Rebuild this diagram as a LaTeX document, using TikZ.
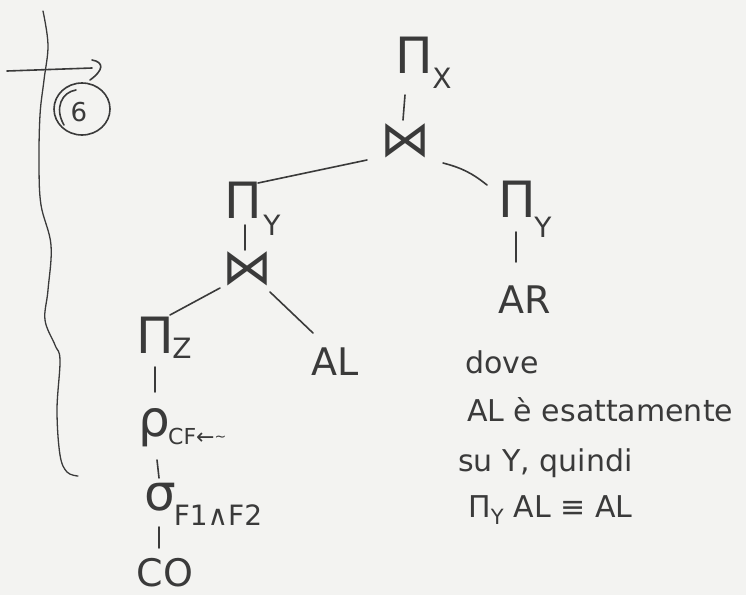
\documentclass[tikz,border=0pt]{standalone}
\usepackage{fontspec}
\setmainfont{DejaVu Sans}
\usetikzlibrary{calc}
\definecolor{inkc}{HTML}{3A3A3A}
\definecolor{paper}{HTML}{F3F3F1}
\begin{document}
\begin{tikzpicture}[x=1pt,y=-1pt,
  ink/.style={draw=inkc, line width=1.6pt, line cap=round, line join=round},
  lbl/.style={inner sep=0pt, text=inkc},
  big/.style={lbl, font=\fontsize{50}{54}\selectfont},
  mid/.style={lbl, font=\fontsize{38}{42}\selectfont},
  sub/.style={lbl, font=\fontsize{28}{32}\selectfont},
  tiny/.style={lbl, font=\fontsize{22}{26}\selectfont},
  note/.style={lbl, anchor=west, font=\fontsize{30}{34}\selectfont}]
\fill[paper] (0,0) rectangle (746,595);
\useasboundingbox (0,0) rectangle (746,595);

% left margin marks
\draw[ink, line width=1.3pt] plot[smooth, tension=0.6] coordinates {(43,11) (48,45) (44,80) (40,115) (39,165) (41,205) (51,245) (48,290) (45,320) (55,345) (60,360) (57,410) (60,455) (67,472) (78,476)};
\draw[ink] (7,71) -- (92,68);
\draw[ink] (92,60) .. controls (104,62) and (104,70) .. (90,80);
\draw[ink] (82,109) ellipse [x radius=28, y radius=26];
\draw[ink] (64,125) .. controls (54,108) and (62,92) .. (76,90);
\node[lbl, font=\fontsize{26}{30}\selectfont] (six) at (79,112) {6};

% tree
\node[big] (px) at (414,55) {Π};
\node[sub] (pxs) at (442,78) {X};
\node[big] (j1) at (405,141) {⋈};
\node[big] (pyl) at (243,200) {Π};
\node[sub] (pyls) at (272,225) {Y};
\node[big] (pyr) at (517,199) {Π};
\node[sub] (pyrs) at (543,227) {Y};
\node[big] (j2) at (247,269) {⋈};
\node[mid] (ar) at (525,300) {AR};
\node[big] (pz) at (155,335) {Π};
\node[sub] (pzs) at (182,348) {Z};
\node[mid] (al) at (335,362) {AL};
\node[big] (rho) at (154,428) {ρ};
\node[tiny, anchor=west] (rhos) at (168,436) {CF←\raisebox{3pt}{\fontsize{14}{14}\selectfont\textasciitilde}};
\node[big] (sig) at (160,497) {σ};
\node[sub] (sigs) at (218,515) {F1∧F2};
\node[mid] (co) at (165,573) {CO};

\draw[ink] ($(px)+(-9,40)$) -- ($(j1)+(-2,-21)$);
\draw[ink] ($(j1)+(-38,19)$) -- ($(pyl)+(15,-17)$);
\draw[ink] ($(j1)+(38,22)$) to[bend left=12] ($(pyr)+(-30,-14)$);
\draw[ink] ($(pyl)+(2,25)$) -- ($(j2)+(-2,-19)$);
\draw[ink] ($(pyr)+(-1,33)$) -- ($(ar)+(-9,-38)$);
\draw[ink] ($(j2)+(-27,19)$) -- ($(pz)+(15,-20)$);
\draw[ink] ($(j2)+(23,23)$) -- ($(al)+(-22,-29)$);
\draw[ink] ($(pz)+(0,32)$) -- ($(rho)+(1,-36)$);
\draw[ink] ($(rho)+(3,32)$) -- ($(sig)+(-1,-19)$);
\draw[ink] ($(sig)+(-1,30)$) -- ($(co)+(-6,-25)$);

% note
\node[note] (n1) at (465,362) {dove};
\node[note] (n2) at (467,410) {AL è esattamente};
\node[note] (n3) at (458,463) {su Y, quindi};
\node[note] (n4) at (468,510) {Π\textsubscript{Y} AL ≡ AL};
\end{tikzpicture}
\end{document}
